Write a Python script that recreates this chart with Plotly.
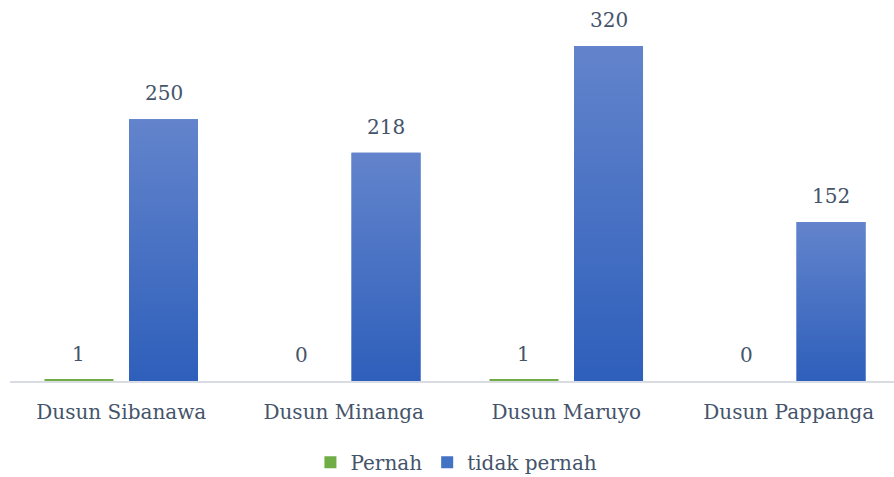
import plotly.graph_objects as go

# Survey counts per hamlet
categories = ["Dusun Sibanawa", "Dusun Minanga", "Dusun Maruyo", "Dusun Pappanga"]
pernah = [1, 0, 1, 0]
tidak_pernah = [250, 218, 320, 152]
series_names = ["Pernah", "tidak pernah"]

FONT = "DejaVu Serif"
TEXT = "#44546a"
GREEN = "#70ad47"
BLUE = "#4472c4"
BLUE_TOP = "#6384cc"
BLUE_BOTTOM = "#2e5fbb"

BAR_W = 0.31
GREEN_C = -0.19   # bar centre offsets within each category slot
BLUE_C = 0.19

idx = list(range(len(categories)))

fig = go.Figure()

fig.add_trace(go.Bar(
    x=idx, y=pernah, name=series_names[0],
    width=BAR_W, offset=GREEN_C - BAR_W / 2,
    marker=dict(color=GREEN, line=dict(width=0)),
    hoverinfo="skip",
))
fig.add_trace(go.Bar(
    x=idx, y=tidak_pernah, name=series_names[1],
    width=BAR_W, offset=BLUE_C - BAR_W / 2,
    marker=dict(color=BLUE, line=dict(width=0)),
    hoverinfo="skip",
))

# vertical gradient overlay on each blue bar
for i, v in zip(idx, tidak_pernah):
    x0 = i + BLUE_C - BAR_W / 2
    x1 = i + BLUE_C + BAR_W / 2
    fig.add_trace(go.Scatter(
        x=[x0, x1, x1, x0, x0], y=[0, 0, v, v, 0],
        mode="lines", fill="toself",
        line=dict(width=0, color="rgba(0,0,0,0)"),
        fillgradient=dict(type="vertical", start=0, stop=v,
                          colorscale=[[0, BLUE_BOTTOM], [1, BLUE_TOP]]),
        showlegend=False, hoverinfo="skip",
    ))

# value labels above every bar
for i, a, b in zip(idx, pernah, tidak_pernah):
    for c, v in ((GREEN_C, a), (BLUE_C, b)):
        fig.add_annotation(
            x=i + c, y=v, text=str(v), showarrow=False,
            xanchor="center", yanchor="bottom", yshift=12,
            font=dict(family=FONT, size=20, color=TEXT),
        )

fig.update_layout(
    width=894, height=477,
    margin=dict(l=10, r=0, t=10, b=96, autoexpand=False),
    paper_bgcolor="white", plot_bgcolor="white",
    barmode="overlay",
    showlegend=True,
    legend=dict(
        orientation="h", x=0.505, xanchor="center",
        yref="container", y=0.031, yanchor="middle",
        font=dict(family=FONT, size=20, color=TEXT),
        traceorder="normal",
    ),
    xaxis=dict(
        tickmode="array", tickvals=idx, ticktext=categories,
        range=[-0.5, 3.473], showgrid=False, zeroline=False,
        showline=True, linecolor="#d9dde3", linewidth=2,
        ticks="", ticklabelstandoff=12,
        tickfont=dict(family=FONT, size=20, color=TEXT),
        fixedrange=True,
    ),
    yaxis=dict(
        range=[0, 354.4], visible=False, showgrid=False, zeroline=False,
        fixedrange=True,
    ),
)

fig.write_html("out.html")
